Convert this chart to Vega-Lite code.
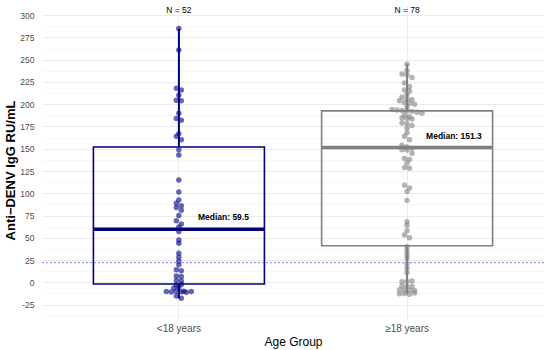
{
  "$schema": "https://vega.github.io/schema/vega-lite/v6.json",
  "width": 502,
  "height": 315,
  "autosize": "none",
  "padding": {"left": 42, "top": 5, "right": 6, "bottom": 30},
  "config": {"view": {"stroke": null}, "font": "Liberation Sans"},
  "resolve": {"axis": {"y": "independent"}},
  "datasets": {
    "pts": [
      {"group": "<18 years", "value": 285}, {"group": "<18 years", "value": 261}, {"group": "<18 years", "value": 218}, {"group": "<18 years", "value": 216},
      {"group": "<18 years", "value": 210}, {"group": "<18 years", "value": 204.5}, {"group": "<18 years", "value": 204}, {"group": "<18 years", "value": 190},
      {"group": "<18 years", "value": 184}, {"group": "<18 years", "value": 182}, {"group": "<18 years", "value": 167}, {"group": "<18 years", "value": 164},
      {"group": "<18 years", "value": 160}, {"group": "<18 years", "value": 149}, {"group": "<18 years", "value": 143}, {"group": "<18 years", "value": 115},
      {"group": "<18 years", "value": 101.5}, {"group": "<18 years", "value": 92.5}, {"group": "<18 years", "value": 88.7}, {"group": "<18 years", "value": 86},
      {"group": "<18 years", "value": 84}, {"group": "<18 years", "value": 81}, {"group": "<18 years", "value": 75}, {"group": "<18 years", "value": 69},
      {"group": "<18 years", "value": 65.5}, {"group": "<18 years", "value": 62}, {"group": "<18 years", "value": 57}, {"group": "<18 years", "value": 47.5},
      {"group": "<18 years", "value": 43.8}, {"group": "<18 years", "value": 32.6}, {"group": "<18 years", "value": 28}, {"group": "<18 years", "value": 23.6},
      {"group": "<18 years", "value": 19.8}, {"group": "<18 years", "value": 14}, {"group": "<18 years", "value": 13}, {"group": "<18 years", "value": 7},
      {"group": "<18 years", "value": 6.5}, {"group": "<18 years", "value": 2}, {"group": "<18 years", "value": 1.5}, {"group": "<18 years", "value": -3},
      {"group": "<18 years", "value": -2.5}, {"group": "<18 years", "value": -6.4}, {"group": "<18 years", "value": -6}, {"group": "<18 years", "value": -10},
      {"group": "<18 years", "value": -10.5}, {"group": "<18 years", "value": -11}, {"group": "<18 years", "value": -10.2}, {"group": "<18 years", "value": -10.8},
      {"group": "<18 years", "value": -11.2}, {"group": "<18 years", "value": -10.4}, {"group": "<18 years", "value": -15.5}, {"group": "<18 years", "value": -18},
      {"group": "≥18 years", "value": 245}, {"group": "≥18 years", "value": 238}, {"group": "≥18 years", "value": 234}, {"group": "≥18 years", "value": 233},
      {"group": "≥18 years", "value": 230}, {"group": "≥18 years", "value": 224}, {"group": "≥18 years", "value": 220}, {"group": "≥18 years", "value": 216},
      {"group": "≥18 years", "value": 215}, {"group": "≥18 years", "value": 211}, {"group": "≥18 years", "value": 208}, {"group": "≥18 years", "value": 206},
      {"group": "≥18 years", "value": 205}, {"group": "≥18 years", "value": 204}, {"group": "≥18 years", "value": 202}, {"group": "≥18 years", "value": 201},
      {"group": "≥18 years", "value": 200}, {"group": "≥18 years", "value": 197}, {"group": "≥18 years", "value": 194}, {"group": "≥18 years", "value": 193.5},
      {"group": "≥18 years", "value": 193}, {"group": "≥18 years", "value": 192.5}, {"group": "≥18 years", "value": 192}, {"group": "≥18 years", "value": 191},
      {"group": "≥18 years", "value": 190}, {"group": "≥18 years", "value": 188}, {"group": "≥18 years", "value": 186}, {"group": "≥18 years", "value": 184.5},
      {"group": "≥18 years", "value": 184}, {"group": "≥18 years", "value": 183.5}, {"group": "≥18 years", "value": 179}, {"group": "≥18 years", "value": 178},
      {"group": "≥18 years", "value": 176}, {"group": "≥18 years", "value": 173}, {"group": "≥18 years", "value": 168}, {"group": "≥18 years", "value": 164},
      {"group": "≥18 years", "value": 160}, {"group": "≥18 years", "value": 154}, {"group": "≥18 years", "value": 152}, {"group": "≥18 years", "value": 150.6},
      {"group": "≥18 years", "value": 149}, {"group": "≥18 years", "value": 148.5}, {"group": "≥18 years", "value": 145}, {"group": "≥18 years", "value": 139},
      {"group": "≥18 years", "value": 138}, {"group": "≥18 years", "value": 134}, {"group": "≥18 years", "value": 129}, {"group": "≥18 years", "value": 128},
      {"group": "≥18 years", "value": 109}, {"group": "≥18 years", "value": 106}, {"group": "≥18 years", "value": 102}, {"group": "≥18 years", "value": 92},
      {"group": "≥18 years", "value": 68}, {"group": "≥18 years", "value": 64}, {"group": "≥18 years", "value": 58}, {"group": "≥18 years", "value": 53},
      {"group": "≥18 years", "value": 50}, {"group": "≥18 years", "value": 40}, {"group": "≥18 years", "value": 35}, {"group": "≥18 years", "value": 31},
      {"group": "≥18 years", "value": 27}, {"group": "≥18 years", "value": 21}, {"group": "≥18 years", "value": 16}, {"group": "≥18 years", "value": 11},
      {"group": "≥18 years", "value": 0.5}, {"group": "≥18 years", "value": 1}, {"group": "≥18 years", "value": 1.5}, {"group": "≥18 years", "value": -4.2},
      {"group": "≥18 years", "value": -4.5}, {"group": "≥18 years", "value": -4.8}, {"group": "≥18 years", "value": -8.5}, {"group": "≥18 years", "value": -8.7},
      {"group": "≥18 years", "value": -9}, {"group": "≥18 years", "value": -9.3}, {"group": "≥18 years", "value": -13}, {"group": "≥18 years", "value": -12.5},
      {"group": "≥18 years", "value": -13.5}, {"group": "≥18 years", "value": -12.2}
    ],
    "stats": [
      {"group": "<18 years", "lo": -18, "q1": -2, "median": 59.5, "q3": 152, "hi": 285, "label": "Median: 59.5", "ntext": "N = 52"},
      {"group": "≥18 years", "lo": -13, "q1": 41, "median": 151.3, "q3": 192.5, "hi": 245, "label": "Median: 151.3", "ntext": "N = 78"}
    ]
  },
  "layer": [
    {
      "data": {"name": "stats"},
      "mark": {"type": "rule", "strokeWidth": 2},
      "encoding": {
        "x": {
          "field": "group", "type": "nominal", "sort": ["<18 years", "≥18 years"],
          "scale": {"domain": ["<18 years", "≥18 years"], "paddingInner": 0, "paddingOuter": 0.1},
          "axis": {
            "title": "Age Group", "titleFontSize": 12, "titleFontWeight": "normal", "titleColor": "#000000", "titlePadding": 3,
            "labelFontSize": 10, "labelColor": "#4d4d4d", "labelPadding": 3, "labelAngle": 0,
            "ticks": false, "domain": false, "grid": true, "gridColor": "#ebebeb", "gridWidth": 1
          }
        },
        "y": {
          "field": "q3", "type": "quantitative",
          "scale": {"domain": [-42.4, 311.5], "nice": false, "zero": false},
          "axis": {
            "title": "Anti−DENV IgG RU/mL", "titleFontSize": 13, "titleFontWeight": "bold", "titleColor": "#000000",
            "titleX": -32, "titleY": 165, "titleBaseline": "middle",
            "values": [-25, 0, 25, 50, 75, 100, 125, 150, 175, 200, 225, 250, 275, 300],
            "labelExpr": "'' + datum.value", "labelOverlap": false,
            "labelFontSize": 8.5, "labelColor": "#4d4d4d", "labelPadding": 8, "ticks": false, "tickSize": 0, "domain": false,
            "grid": true, "gridColor": "#ebebeb", "gridWidth": 1
          }
        },
        "y2": {"field": "hi"},
        "color": {"field": "group", "type": "nominal", "scale": {"domain": ["<18 years", "≥18 years"], "range": ["#000080", "#808080"]}, "legend": null}
      }
    },
    {
      "data": {"name": "stats"},
      "mark": {"type": "rule", "strokeWidth": 2},
      "encoding": {
        "x": {"field": "group", "type": "nominal"},
        "y": {
          "field": "lo", "type": "quantitative",
          "axis": {
            "title": null, "orient": "left", "labels": false, "ticks": false, "domain": false,
            "values": [-37.5, -12.5, 12.5, 37.5, 62.5, 87.5, 112.5, 137.5, 162.5, 187.5, 212.5, 237.5, 262.5, 287.5],
            "grid": true, "gridColor": "#f2f2f2", "gridWidth": 0.6
          }
        },
        "y2": {"field": "q1"},
        "color": {"field": "group", "type": "nominal", "legend": null}
      }
    },
    {
      "data": {"name": "stats"},
      "mark": {"type": "bar", "filled": false, "strokeWidth": 1.6, "size": 171},
      "encoding": {
        "x": {"field": "group", "type": "nominal"},
        "y": {"field": "q1", "type": "quantitative", "axis": null},
        "y2": {"field": "q3"},
        "color": {"field": "group", "type": "nominal", "legend": null}
      }
    },
    {
      "data": {"name": "stats"},
      "mark": {"type": "tick", "size": 171, "thickness": 3.5, "opacity": 1},
      "encoding": {
        "x": {"field": "group", "type": "nominal"},
        "y": {"field": "median", "type": "quantitative", "axis": null},
        "color": {"field": "group", "type": "nominal", "legend": null}
      }
    },
    {
      "data": {"name": "pts"},
      "transform": [
        {"bin": {"step": 5, "anchor": 0}, "field": "value", "as": ["b0", "b1"]},
        {"window": [{"op": "row_number", "as": "r"}, {"op": "count", "as": "c"}], "groupby": ["group", "b0"], "frame": [null, null]},
        {"calculate": "(datum.r - 1 - (datum.c - 1) / 2) * 5", "as": "off"}
      ],
      "mark": {"type": "circle", "size": 30, "opacity": 0.6},
      "encoding": {
        "x": {"field": "group", "type": "nominal"},
        "xOffset": {"field": "off", "type": "quantitative", "scale": {"domain": [-114, 114], "range": [0, 228]}},
        "y": {"field": "value", "type": "quantitative", "axis": null},
        "color": {"field": "group", "type": "nominal", "legend": null}
      }
    },
    {
      "data": {"values": [{"threshold": 22}]},
      "mark": {"type": "rule", "color": "#6f6fff", "strokeDash": [2, 2], "strokeWidth": 0.9},
      "encoding": {"y": {"field": "threshold", "type": "quantitative", "axis": null}}
    },
    {
      "data": {"name": "stats"},
      "mark": {"type": "text", "align": "left", "baseline": "middle", "dx": 19, "dy": -12, "fontSize": 8.5, "fontWeight": "bold", "color": "#000000"},
      "encoding": {
        "x": {"field": "group", "type": "nominal"},
        "y": {"field": "median", "type": "quantitative", "axis": null},
        "text": {"field": "label"}
      }
    },
    {
      "data": {"name": "stats"},
      "mark": {"type": "text", "align": "center", "baseline": "middle", "fontSize": 8.5, "color": "#000000"},
      "encoding": {
        "x": {"field": "group", "type": "nominal"},
        "y": {"datum": 306, "type": "quantitative", "axis": null},
        "text": {"field": "ntext"}
      }
    }
  ]
}
